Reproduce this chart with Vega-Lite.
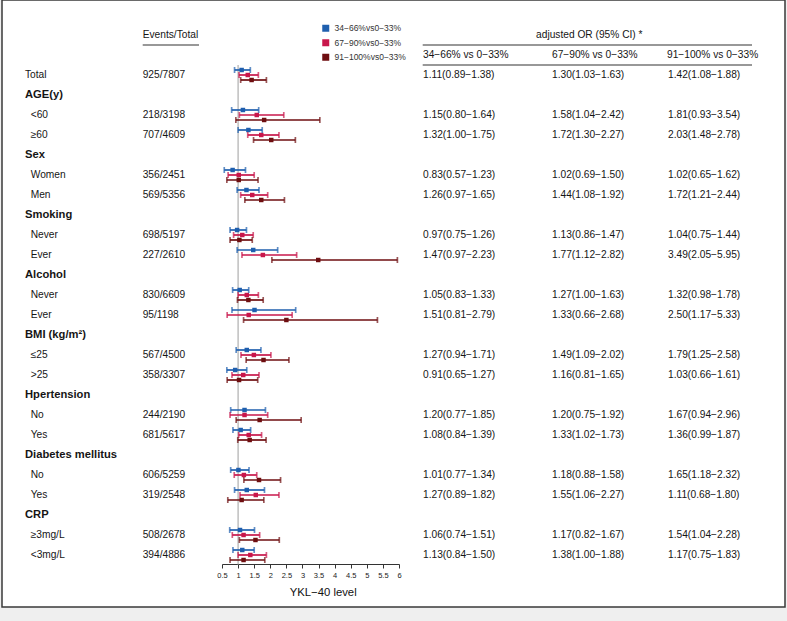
{
  "$schema": "https://vega.github.io/schema/vega-lite/v6.json",
  "width": 783,
  "height": 607,
  "autosize": {"type": "none"},
  "padding": {"left": 2, "right": 2, "top": 0, "bottom": 14},
  "background": "#efefef",
  "config": {
    "view": {"fill": "white", "stroke": "#3a3a3a", "strokeWidth": 1.5},
    "font": "Liberation Sans",
    "text": {"font": "Liberation Sans", "color": "#151515"},
    "legend": {"symbolStrokeWidth": 0, "labelFontSize": 8.5, "labelFont": "Liberation Sans", "labelColor": "#333", "labelOffset": 4.5, "rowPadding": 5.5, "padding": 0, "offset": 0}
  },
  "datasets": {
    "labels": [
      {"row": 0, "label": "Total", "kind": "t", "events": "925/7807"},
      {"row": 1, "label": "AGE(y)", "kind": "h", "events": ""},
      {"row": 2, "label": "<60", "kind": "i", "events": "218/3198"},
      {"row": 3, "label": "≥60", "kind": "i", "events": "707/4609"},
      {"row": 4, "label": "Sex", "kind": "h", "events": ""},
      {"row": 5, "label": "Women", "kind": "i", "events": "356/2451"},
      {"row": 6, "label": "Men", "kind": "i", "events": "569/5356"},
      {"row": 7, "label": "Smoking", "kind": "h", "events": ""},
      {"row": 8, "label": "Never", "kind": "i", "events": "698/5197"},
      {"row": 9, "label": "Ever", "kind": "i", "events": "227/2610"},
      {"row": 10, "label": "Alcohol", "kind": "h", "events": ""},
      {"row": 11, "label": "Never", "kind": "i", "events": "830/6609"},
      {"row": 12, "label": "Ever", "kind": "i", "events": "95/1198"},
      {"row": 13, "label": "BMI (kg/m²)", "kind": "h", "events": ""},
      {"row": 14, "label": "≤25", "kind": "i", "events": "567/4500"},
      {"row": 15, "label": ">25", "kind": "i", "events": "358/3307"},
      {"row": 16, "label": "Hpertension", "kind": "h", "events": ""},
      {"row": 17, "label": "No", "kind": "i", "events": "244/2190"},
      {"row": 18, "label": "Yes", "kind": "i", "events": "681/5617"},
      {"row": 19, "label": "Diabetes mellitus", "kind": "h", "events": ""},
      {"row": 20, "label": "No", "kind": "i", "events": "606/5259"},
      {"row": 21, "label": "Yes", "kind": "i", "events": "319/2548"},
      {"row": 22, "label": "CRP", "kind": "h", "events": ""},
      {"row": 23, "label": "≥3mg/L", "kind": "i", "events": "508/2678"},
      {"row": 24, "label": "<3mg/L", "kind": "i", "events": "394/4886"}
    ],
    "ci": [
      {"row": 0, "series": "34−66%vs0−33%", "or": 1.11, "lo": 0.89, "hi": 1.38, "txt": "1.11(0.89−1.38)"},
      {"row": 0, "series": "67−90%vs0−33%", "or": 1.30, "lo": 1.03, "hi": 1.63, "txt": "1.30(1.03−1.63)"},
      {"row": 0, "series": "91−100%vs0−33%", "or": 1.42, "lo": 1.08, "hi": 1.88, "txt": "1.42(1.08−1.88)"},
      {"row": 2, "series": "34−66%vs0−33%", "or": 1.15, "lo": 0.80, "hi": 1.64, "txt": "1.15(0.80−1.64)"},
      {"row": 2, "series": "67−90%vs0−33%", "or": 1.58, "lo": 1.04, "hi": 2.42, "txt": "1.58(1.04−2.42)"},
      {"row": 2, "series": "91−100%vs0−33%", "or": 1.81, "lo": 0.93, "hi": 3.54, "txt": "1.81(0.93−3.54)"},
      {"row": 3, "series": "34−66%vs0−33%", "or": 1.32, "lo": 1.00, "hi": 1.75, "txt": "1.32(1.00−1.75)"},
      {"row": 3, "series": "67−90%vs0−33%", "or": 1.72, "lo": 1.30, "hi": 2.27, "txt": "1.72(1.30−2.27)"},
      {"row": 3, "series": "91−100%vs0−33%", "or": 2.03, "lo": 1.48, "hi": 2.78, "txt": "2.03(1.48−2.78)"},
      {"row": 5, "series": "34−66%vs0−33%", "or": 0.83, "lo": 0.57, "hi": 1.23, "txt": "0.83(0.57−1.23)"},
      {"row": 5, "series": "67−90%vs0−33%", "or": 1.02, "lo": 0.69, "hi": 1.50, "txt": "1.02(0.69−1.50)"},
      {"row": 5, "series": "91−100%vs0−33%", "or": 1.02, "lo": 0.65, "hi": 1.62, "txt": "1.02(0.65−1.62)"},
      {"row": 6, "series": "34−66%vs0−33%", "or": 1.26, "lo": 0.97, "hi": 1.65, "txt": "1.26(0.97−1.65)"},
      {"row": 6, "series": "67−90%vs0−33%", "or": 1.44, "lo": 1.08, "hi": 1.92, "txt": "1.44(1.08−1.92)"},
      {"row": 6, "series": "91−100%vs0−33%", "or": 1.72, "lo": 1.21, "hi": 2.44, "txt": "1.72(1.21−2.44)"},
      {"row": 8, "series": "34−66%vs0−33%", "or": 0.97, "lo": 0.75, "hi": 1.26, "txt": "0.97(0.75−1.26)"},
      {"row": 8, "series": "67−90%vs0−33%", "or": 1.13, "lo": 0.86, "hi": 1.47, "txt": "1.13(0.86−1.47)"},
      {"row": 8, "series": "91−100%vs0−33%", "or": 1.04, "lo": 0.75, "hi": 1.44, "txt": "1.04(0.75−1.44)"},
      {"row": 9, "series": "34−66%vs0−33%", "or": 1.47, "lo": 0.97, "hi": 2.23, "txt": "1.47(0.97−2.23)"},
      {"row": 9, "series": "67−90%vs0−33%", "or": 1.77, "lo": 1.12, "hi": 2.82, "txt": "1.77(1.12−2.82)"},
      {"row": 9, "series": "91−100%vs0−33%", "or": 3.49, "lo": 2.05, "hi": 5.95, "txt": "3.49(2.05−5.95)"},
      {"row": 11, "series": "34−66%vs0−33%", "or": 1.05, "lo": 0.83, "hi": 1.33, "txt": "1.05(0.83−1.33)"},
      {"row": 11, "series": "67−90%vs0−33%", "or": 1.27, "lo": 1.00, "hi": 1.63, "txt": "1.27(1.00−1.63)"},
      {"row": 11, "series": "91−100%vs0−33%", "or": 1.32, "lo": 0.98, "hi": 1.78, "txt": "1.32(0.98−1.78)"},
      {"row": 12, "series": "34−66%vs0−33%", "or": 1.51, "lo": 0.81, "hi": 2.79, "txt": "1.51(0.81−2.79)"},
      {"row": 12, "series": "67−90%vs0−33%", "or": 1.33, "lo": 0.66, "hi": 2.68, "txt": "1.33(0.66−2.68)"},
      {"row": 12, "series": "91−100%vs0−33%", "or": 2.50, "lo": 1.17, "hi": 5.33, "txt": "2.50(1.17−5.33)"},
      {"row": 14, "series": "34−66%vs0−33%", "or": 1.27, "lo": 0.94, "hi": 1.71, "txt": "1.27(0.94−1.71)"},
      {"row": 14, "series": "67−90%vs0−33%", "or": 1.49, "lo": 1.09, "hi": 2.02, "txt": "1.49(1.09−2.02)"},
      {"row": 14, "series": "91−100%vs0−33%", "or": 1.79, "lo": 1.25, "hi": 2.58, "txt": "1.79(1.25−2.58)"},
      {"row": 15, "series": "34−66%vs0−33%", "or": 0.91, "lo": 0.65, "hi": 1.27, "txt": "0.91(0.65−1.27)"},
      {"row": 15, "series": "67−90%vs0−33%", "or": 1.16, "lo": 0.81, "hi": 1.65, "txt": "1.16(0.81−1.65)"},
      {"row": 15, "series": "91−100%vs0−33%", "or": 1.03, "lo": 0.66, "hi": 1.61, "txt": "1.03(0.66−1.61)"},
      {"row": 17, "series": "34−66%vs0−33%", "or": 1.20, "lo": 0.77, "hi": 1.85, "txt": "1.20(0.77−1.85)"},
      {"row": 17, "series": "67−90%vs0−33%", "or": 1.20, "lo": 0.75, "hi": 1.92, "txt": "1.20(0.75−1.92)"},
      {"row": 17, "series": "91−100%vs0−33%", "or": 1.67, "lo": 0.94, "hi": 2.96, "txt": "1.67(0.94−2.96)"},
      {"row": 18, "series": "34−66%vs0−33%", "or": 1.08, "lo": 0.84, "hi": 1.39, "txt": "1.08(0.84−1.39)"},
      {"row": 18, "series": "67−90%vs0−33%", "or": 1.33, "lo": 1.02, "hi": 1.73, "txt": "1.33(1.02−1.73)"},
      {"row": 18, "series": "91−100%vs0−33%", "or": 1.36, "lo": 0.99, "hi": 1.87, "txt": "1.36(0.99−1.87)"},
      {"row": 20, "series": "34−66%vs0−33%", "or": 1.01, "lo": 0.77, "hi": 1.34, "txt": "1.01(0.77−1.34)"},
      {"row": 20, "series": "67−90%vs0−33%", "or": 1.18, "lo": 0.88, "hi": 1.58, "txt": "1.18(0.88−1.58)"},
      {"row": 20, "series": "91−100%vs0−33%", "or": 1.65, "lo": 1.18, "hi": 2.32, "txt": "1.65(1.18−2.32)"},
      {"row": 21, "series": "34−66%vs0−33%", "or": 1.27, "lo": 0.89, "hi": 1.82, "txt": "1.27(0.89−1.82)"},
      {"row": 21, "series": "67−90%vs0−33%", "or": 1.55, "lo": 1.06, "hi": 2.27, "txt": "1.55(1.06−2.27)"},
      {"row": 21, "series": "91−100%vs0−33%", "or": 1.11, "lo": 0.68, "hi": 1.80, "txt": "1.11(0.68−1.80)"},
      {"row": 23, "series": "34−66%vs0−33%", "or": 1.06, "lo": 0.74, "hi": 1.51, "txt": "1.06(0.74−1.51)"},
      {"row": 23, "series": "67−90%vs0−33%", "or": 1.17, "lo": 0.82, "hi": 1.67, "txt": "1.17(0.82−1.67)"},
      {"row": 23, "series": "91−100%vs0−33%", "or": 1.54, "lo": 1.04, "hi": 2.28, "txt": "1.54(1.04−2.28)"},
      {"row": 24, "series": "34−66%vs0−33%", "or": 1.13, "lo": 0.84, "hi": 1.50, "txt": "1.13(0.84−1.50)"},
      {"row": 24, "series": "67−90%vs0−33%", "or": 1.38, "lo": 1.00, "hi": 1.88, "txt": "1.38(1.00−1.88)"},
      {"row": 24, "series": "91−100%vs0−33%", "or": 1.17, "lo": 0.75, "hi": 1.83, "txt": "1.17(0.75−1.83)"}
    ]
  },
  "layer": [
    {
      "data": {"name": "ci"},
      "encoding": {
        "y": {"field": "row", "type": "ordinal", "scale": {"type": "band", "domain": [-2, -1, 0, 1, 2, 3, 4, 5, 6, 7, 8, 9, 10, 11, 12, 13, 14, 15, 16, 17, 18, 19, 20, 21, 22, 23, 24], "range": [25, 565], "paddingInner": 0, "paddingOuter": 0}, "axis": null}
      },
      "layer": [
        {
          "data": {"name": "labels"},
          "mark": {"type": "tick", "orient": "vertical", "size": 20, "thickness": 1.2, "color": "#8c8c8c"},
          "encoding": {
            "x": {"datum": 1, "type": "quantitative", "scale": {"domain": [0.5, 6], "range": [220, 397], "nice": false, "zero": false},
              "axis": {"values": [0.5, 1, 1.5, 2, 2.5, 3, 3.5, 4, 4.5, 5, 5.5, 6], "format": "~g", "title": "YKL−40 level", "offset": -43, "grid": false, "tickSize": 4, "tickColor": "#333", "domainColor": "#333", "labelFontSize": 7.5, "labelColor": "#222", "labelPadding": 3, "labelFont": "Liberation Sans", "labelFlush": false, "labelOverlap": false, "titleFont": "Liberation Sans", "titleFontSize": 11.3, "titleFontWeight": "normal", "titleColor": "#111", "titleX": 320.7, "titleY": 28.3, "titleBaseline": "middle"}}
          }
        },
        {
          "mark": {"type": "point", "shape": "square", "filled": true, "size": 20, "opacity": 1},
          "encoding": {
            "x": {"field": "or", "type": "quantitative", "scale": {"domain": [0.5, 6], "range": [220, 397], "nice": false, "zero": false},
              "axis": {"values": [0.5, 1, 1.5, 2, 2.5, 3, 3.5, 4, 4.5, 5, 5.5, 6], "format": "~g", "title": "YKL−40 level", "offset": -43, "grid": false, "tickSize": 4, "tickColor": "#333", "domainColor": "#333", "labelFontSize": 7.5, "labelColor": "#222", "labelPadding": 3, "labelFont": "Liberation Sans", "labelFlush": false, "labelOverlap": false, "titleFont": "Liberation Sans", "titleFontSize": 11.3, "titleFontWeight": "normal", "titleColor": "#111", "titleX": 320.7, "titleY": 28.3, "titleBaseline": "middle"}},
            "yOffset": {"field": "series", "type": "nominal", "scale": {"domain": ["34−66%vs0−33%", "67−90%vs0−33%", "91−100%vs0−33%"], "paddingInner": 0, "paddingOuter": 0.5}},
            "color": {"field": "series", "type": "nominal", "scale": {"domain": ["34−66%vs0−33%", "67−90%vs0−33%", "91−100%vs0−33%"], "range": ["#1f5fae", "#c8174b", "#6e0e10"]},
              "legend": {"title": null, "orient": "none", "legendX": 319.5, "legendY": 24, "symbolType": "square", "symbolSize": 49}}
          }
        },
        {
          "mark": {"type": "rule", "strokeWidth": 1.7},
          "encoding": {
            "x": {"field": "lo", "type": "quantitative", "scale": {"domain": [0.5, 6], "range": [220, 397], "nice": false, "zero": false},
              "axis": {"values": [0.5, 1, 1.5, 2, 2.5, 3, 3.5, 4, 4.5, 5, 5.5, 6], "format": "~g", "title": "YKL−40 level", "offset": -43, "grid": false, "tickSize": 4, "tickColor": "#333", "domainColor": "#333", "labelFontSize": 7.5, "labelColor": "#222", "labelPadding": 3, "labelFont": "Liberation Sans", "labelFlush": false, "labelOverlap": false, "titleFont": "Liberation Sans", "titleFontSize": 11.3, "titleFontWeight": "normal", "titleColor": "#111", "titleX": 320.7, "titleY": 28.3, "titleBaseline": "middle"}},
            "x2": {"field": "hi"},
            "yOffset": {"field": "series", "type": "nominal", "scale": {"domain": ["34−66%vs0−33%", "67−90%vs0−33%", "91−100%vs0−33%"], "paddingInner": 0, "paddingOuter": 0.5}},
            "color": {"field": "series", "type": "nominal", "scale": {"domain": ["34−66%vs0−33%", "67−90%vs0−33%", "91−100%vs0−33%"], "range": ["#1f5fae", "#c8174b", "#6e0e10"]}, "legend": null}
          }
        },
        {
          "mark": {"type": "tick", "orient": "vertical", "size": 6, "thickness": 1.7},
          "encoding": {
            "x": {"field": "lo", "type": "quantitative", "scale": {"domain": [0.5, 6], "range": [220, 397], "nice": false, "zero": false},
              "axis": {"values": [0.5, 1, 1.5, 2, 2.5, 3, 3.5, 4, 4.5, 5, 5.5, 6], "format": "~g", "title": "YKL−40 level", "offset": -43, "grid": false, "tickSize": 4, "tickColor": "#333", "domainColor": "#333", "labelFontSize": 7.5, "labelColor": "#222", "labelPadding": 3, "labelFont": "Liberation Sans", "labelFlush": false, "labelOverlap": false, "titleFont": "Liberation Sans", "titleFontSize": 11.3, "titleFontWeight": "normal", "titleColor": "#111", "titleX": 320.7, "titleY": 28.3, "titleBaseline": "middle"}},
            "yOffset": {"field": "series", "type": "nominal", "scale": {"domain": ["34−66%vs0−33%", "67−90%vs0−33%", "91−100%vs0−33%"], "paddingInner": 0, "paddingOuter": 0.5}},
            "color": {"field": "series", "type": "nominal", "scale": {"domain": ["34−66%vs0−33%", "67−90%vs0−33%", "91−100%vs0−33%"], "range": ["#1f5fae", "#c8174b", "#6e0e10"]}, "legend": null}
          }
        },
        {
          "mark": {"type": "tick", "orient": "vertical", "size": 6, "thickness": 1.7},
          "encoding": {
            "x": {"field": "hi", "type": "quantitative", "scale": {"domain": [0.5, 6], "range": [220, 397], "nice": false, "zero": false},
              "axis": {"values": [0.5, 1, 1.5, 2, 2.5, 3, 3.5, 4, 4.5, 5, 5.5, 6], "format": "~g", "title": "YKL−40 level", "offset": -43, "grid": false, "tickSize": 4, "tickColor": "#333", "domainColor": "#333", "labelFontSize": 7.5, "labelColor": "#222", "labelPadding": 3, "labelFont": "Liberation Sans", "labelFlush": false, "labelOverlap": false, "titleFont": "Liberation Sans", "titleFontSize": 11.3, "titleFontWeight": "normal", "titleColor": "#111", "titleX": 320.7, "titleY": 28.3, "titleBaseline": "middle"}},
            "yOffset": {"field": "series", "type": "nominal", "scale": {"domain": ["34−66%vs0−33%", "67−90%vs0−33%", "91−100%vs0−33%"], "paddingInner": 0, "paddingOuter": 0.5}},
            "color": {"field": "series", "type": "nominal", "scale": {"domain": ["34−66%vs0−33%", "67−90%vs0−33%", "91−100%vs0−33%"], "range": ["#1f5fae", "#c8174b", "#6e0e10"]}, "legend": null}
          }
        }
      ]
    },
    {
      "encoding": {
        "y": {"field": "row", "type": "ordinal", "axis": null}
      },
      "layer": [
        {
          "data": {"name": "labels"},
          "transform": [{"filter": "datum.kind == 'h'"}],
          "mark": {"type": "text", "align": "left", "baseline": "middle", "fontSize": 11.2, "fontWeight": "bold"},
          "encoding": {
            "x": {"datum": 23, "type": "quantitative", "scale": {"domain": [0, 783], "nice": false, "zero": false}, "axis": null},
            "text": {"field": "label"}
          }
        },
        {
          "data": {"name": "labels"},
          "transform": [{"filter": "datum.kind == 't'"}],
          "mark": {"type": "text", "align": "left", "baseline": "middle", "fontSize": 10.2},
          "encoding": {
            "x": {"datum": 23, "type": "quantitative", "scale": {"domain": [0, 783], "nice": false, "zero": false}, "axis": null},
            "text": {"field": "label"}
          }
        },
        {
          "data": {"name": "labels"},
          "transform": [{"filter": "datum.kind == 'i'"}],
          "mark": {"type": "text", "align": "left", "baseline": "middle", "fontSize": 10.2, "dx": 5.7},
          "encoding": {
            "x": {"datum": 23, "type": "quantitative", "scale": {"domain": [0, 783], "nice": false, "zero": false}, "axis": null},
            "text": {"field": "label"}
          }
        },
        {
          "data": {"name": "labels"},
          "mark": {"type": "text", "align": "left", "baseline": "middle", "fontSize": 10.2},
          "encoding": {
            "x": {"datum": 140.7, "type": "quantitative", "scale": {"domain": [0, 783], "nice": false, "zero": false}, "axis": null},
            "text": {"field": "events"}
          }
        },
        {
          "data": {"values": [{"row": -2, "t": "Events/Total"}]},
          "mark": {"type": "text", "align": "left", "baseline": "middle", "fontSize": 10.2},
          "encoding": {
            "x": {"datum": 140.7, "type": "quantitative", "scale": {"domain": [0, 783], "nice": false, "zero": false}, "axis": null},
            "text": {"field": "t"}
          }
        },
        {
          "data": {"values": [{"row": -2, "t": "adjusted OR (95% CI) *"}]},
          "mark": {"type": "text", "align": "center", "baseline": "middle", "fontSize": 10.2},
          "encoding": {
            "x": {"datum": 587.3, "type": "quantitative", "scale": {"domain": [0, 783], "nice": false, "zero": false}, "axis": null},
            "text": {"field": "t"}
          }
        },
        {
          "data": {"values": [{"row": -1, "t": "34−66% vs 0−33%"}]},
          "mark": {"type": "text", "align": "left", "baseline": "middle", "fontSize": 10.2},
          "encoding": {
            "x": {"datum": 421, "type": "quantitative", "scale": {"domain": [0, 783], "nice": false, "zero": false}, "axis": null},
            "text": {"field": "t"}
          }
        },
        {
          "data": {"values": [{"row": -1, "t": "67−90% vs 0−33%"}]},
          "mark": {"type": "text", "align": "left", "baseline": "middle", "fontSize": 10.2},
          "encoding": {
            "x": {"datum": 550, "type": "quantitative", "scale": {"domain": [0, 783], "nice": false, "zero": false}, "axis": null},
            "text": {"field": "t"}
          }
        },
        {
          "data": {"values": [{"row": -1, "t": "91−100% vs 0−33%"}]},
          "mark": {"type": "text", "align": "left", "baseline": "middle", "fontSize": 10.2},
          "encoding": {
            "x": {"datum": 665, "type": "quantitative", "scale": {"domain": [0, 783], "nice": false, "zero": false}, "axis": null},
            "text": {"field": "t"}
          }
        },
        {
          "data": {"name": "ci"},
          "transform": [{"filter": "datum.series == '34−66%vs0−33%'"}],
          "mark": {"type": "text", "align": "left", "baseline": "middle", "fontSize": 10.2},
          "encoding": {
            "x": {"datum": 421, "type": "quantitative", "scale": {"domain": [0, 783], "nice": false, "zero": false}, "axis": null},
            "text": {"field": "txt"}
          }
        },
        {
          "data": {"name": "ci"},
          "transform": [{"filter": "datum.series == '67−90%vs0−33%'"}],
          "mark": {"type": "text", "align": "left", "baseline": "middle", "fontSize": 10.2},
          "encoding": {
            "x": {"datum": 550, "type": "quantitative", "scale": {"domain": [0, 783], "nice": false, "zero": false}, "axis": null},
            "text": {"field": "txt"}
          }
        },
        {
          "data": {"name": "ci"},
          "transform": [{"filter": "datum.series == '91−100%vs0−33%'"}],
          "mark": {"type": "text", "align": "left", "baseline": "middle", "fontSize": 10.2},
          "encoding": {
            "x": {"datum": 666, "type": "quantitative", "scale": {"domain": [0, 783], "nice": false, "zero": false}, "axis": null},
            "text": {"field": "txt"}
          }
        },
        {
          "data": {"values": [{"row": -2}]},
          "mark": {"type": "rule", "strokeWidth": 1.1, "color": "#333"},
          "encoding": {
            "x": {"datum": 140.7, "type": "quantitative", "scale": {"domain": [0, 783], "nice": false, "zero": false}, "axis": null},
            "x2": {"datum": 197},
            "y": {"field": "row", "type": "ordinal", "bandPosition": 1, "axis": null}
          }
        },
        {
          "data": {"values": [{"row": -2}, {"row": -1}]},
          "mark": {"type": "rule", "strokeWidth": 1.1, "color": "#333"},
          "encoding": {
            "x": {"datum": 420.7, "type": "quantitative", "scale": {"domain": [0, 783], "nice": false, "zero": false}, "axis": null},
            "x2": {"datum": 750},
            "y": {"field": "row", "type": "ordinal", "bandPosition": 1, "axis": null}
          }
        }
      ]
    }
  ],
  "resolve": {"scale": {"x": "independent"}, "axis": {"x": "independent"}}
}
